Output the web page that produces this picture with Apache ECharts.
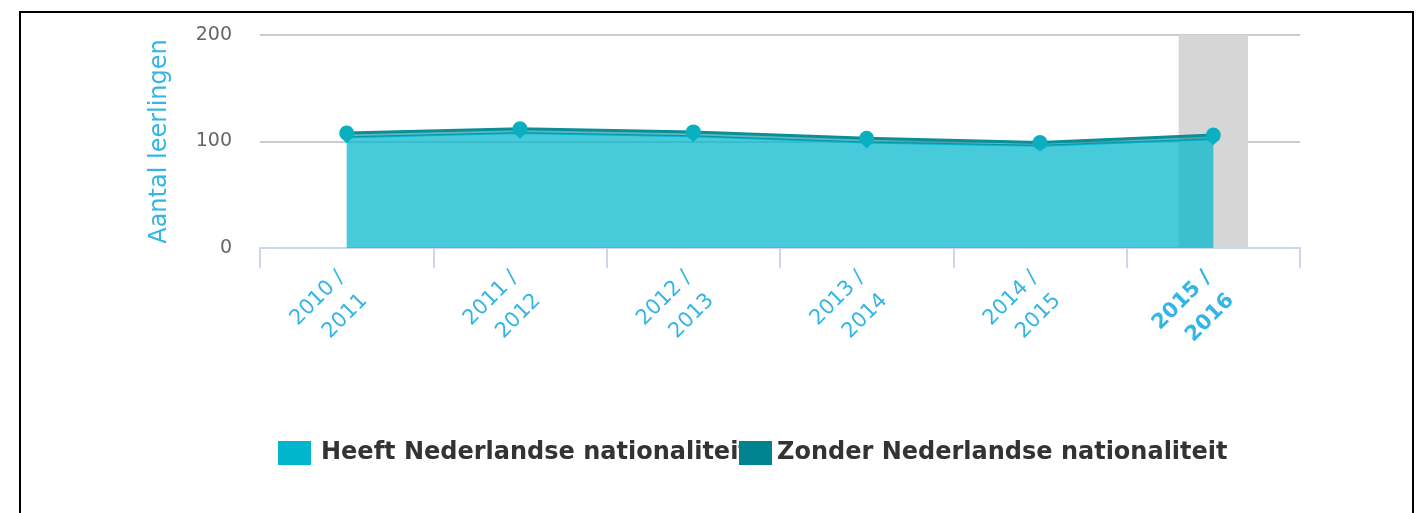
<!DOCTYPE html>
<html>
<head>
<meta charset="utf-8">
<script src="https://cdn.jsdelivr.net/npm/echarts@6/dist/echarts.min.js"></script>
<style>
html,body{margin:0;padding:0;background:#fff;overflow:hidden;}
#frame{position:absolute;left:19px;top:11px;width:1395px;height:600px;border:2px solid #000;box-sizing:border-box;}
#chart{position:absolute;left:0;top:0;width:1426px;height:513px;}
</style>
</head>
<body>
<div id="frame"></div>
<div id="chart"></div>
<script>
// Data
const categories = ['2010 / 2011', '2011 / 2012', '2012 / 2013', '2013 / 2014', '2014 / 2015', '2015 / 2016'];
const heeftValues = [104, 108, 105, 99, 96, 102];
const zonderValues = [4, 4, 4, 4, 3, 4];
const highlightIndex = 5;
const highlightValues = [null, null, null, null, null, 200];
const seriesNames = ['Heeft Nederlandse nationaliteit', 'Zonder Nederlandse nationaliteit'];
const seriesColors = ['#00b5cc', '#00838f'];
const yTicks = [0, 100, 200];
const yTitle = 'Aantal leerlingen';

const FONT = 'DejaVu Sans';
const chart = echarts.init(document.getElementById('chart'), null, {renderer: 'canvas'});

const legendText = {fontFamily: FONT, fontSize: 24, fontWeight: 'bold', color: '#333'};
const legendCommon = {
  icon: 'rect', itemWidth: 33, itemHeight: 24, top: 441, padding: 0,
  selectedMode: false
};

const labelText = {color: '#33b5e5', fontFamily: FONT, fontSize: 21, lineHeight: 32};

chart.setOption({
  animation: false,
  backgroundColor: 'transparent',
  grid: {left: 260, right: 126, top: 35, bottom: 265, containLabel: false},
  legend: [
    Object.assign({}, legendCommon, {left: 278, textStyle: Object.assign({padding: [0, 0, 0, 5]}, legendText),
      data: [{name: seriesNames[0], itemStyle: {color: seriesColors[0]}}]}),
    Object.assign({}, legendCommon, {left: 739, textStyle: Object.assign({}, legendText),
      data: [{name: seriesNames[1], itemStyle: {color: seriesColors[1]}}]})
  ],
  xAxis: {
    type: 'category', data: categories, boundaryGap: true,
    axisLine: {lineStyle: {color: '#ccd6eb', width: 2}},
    axisTick: {show: true, length: 20, lineStyle: {color: '#ccd6eb', width: 2}},
    axisLabel: {
      rotate: 45, margin: 32, interval: 0,
      color: '#33b5e5', fontFamily: FONT, fontSize: 21, lineHeight: 32,
      formatter: function (value, index) {
        const parts = value.split(' / ');
        const st = index === highlightIndex ? 'b' : 'n';
        return '{s| }\n{' + st + '|' + parts[0] + ' /}\n{' + st + '|' + parts[1] + '}';
      },
      rich: {
        s: {fontSize: 1, lineHeight: 17},
        n: Object.assign({}, labelText),
        b: Object.assign({}, labelText, {fontWeight: 'bold'})
      }
    },
    splitLine: {show: false}
  },
  yAxis: {
    type: 'value', min: yTicks[0], max: yTicks[yTicks.length - 1], interval: 100,
    name: yTitle, nameLocation: 'middle', nameGap: 88, nameRotate: 90,
    nameTextStyle: {color: '#33b5e5', fontFamily: FONT, fontSize: 24},
    axisLine: {show: false}, axisTick: {show: false},
    axisLabel: {color: '#666', fontFamily: FONT, fontSize: 19, margin: 28},
    splitLine: {lineStyle: {color: '#cccccc', width: 2}}
  },
  series: [
    {
      type: 'bar', data: highlightValues, barWidth: '40%', silent: true, z: 0,
      itemStyle: {color: '#d6d6d6'}, legendHoverLink: false
    },
    {
      name: seriesNames[0], type: 'line', stack: 'total', data: heeftValues, z: 2,
      color: seriesColors[0], symbol: 'diamond', symbolSize: 12, showSymbol: true,
      lineStyle: {width: 2, color: seriesColors[0]},
      itemStyle: {color: seriesColors[0]},
      areaStyle: {color: seriesColors[0], opacity: 0.72}
    },
    {
      name: seriesNames[1], type: 'line', stack: 'total', data: zonderValues, z: 3,
      color: seriesColors[1], symbol: 'circle', symbolSize: 15, showSymbol: true,
      lineStyle: {width: 3, color: '#0a8f99'},
      itemStyle: {color: '#0ab0bf'},
      areaStyle: {color: seriesColors[1], opacity: 0.6}
    }
  ]
});
</script>
</body>
</html>
